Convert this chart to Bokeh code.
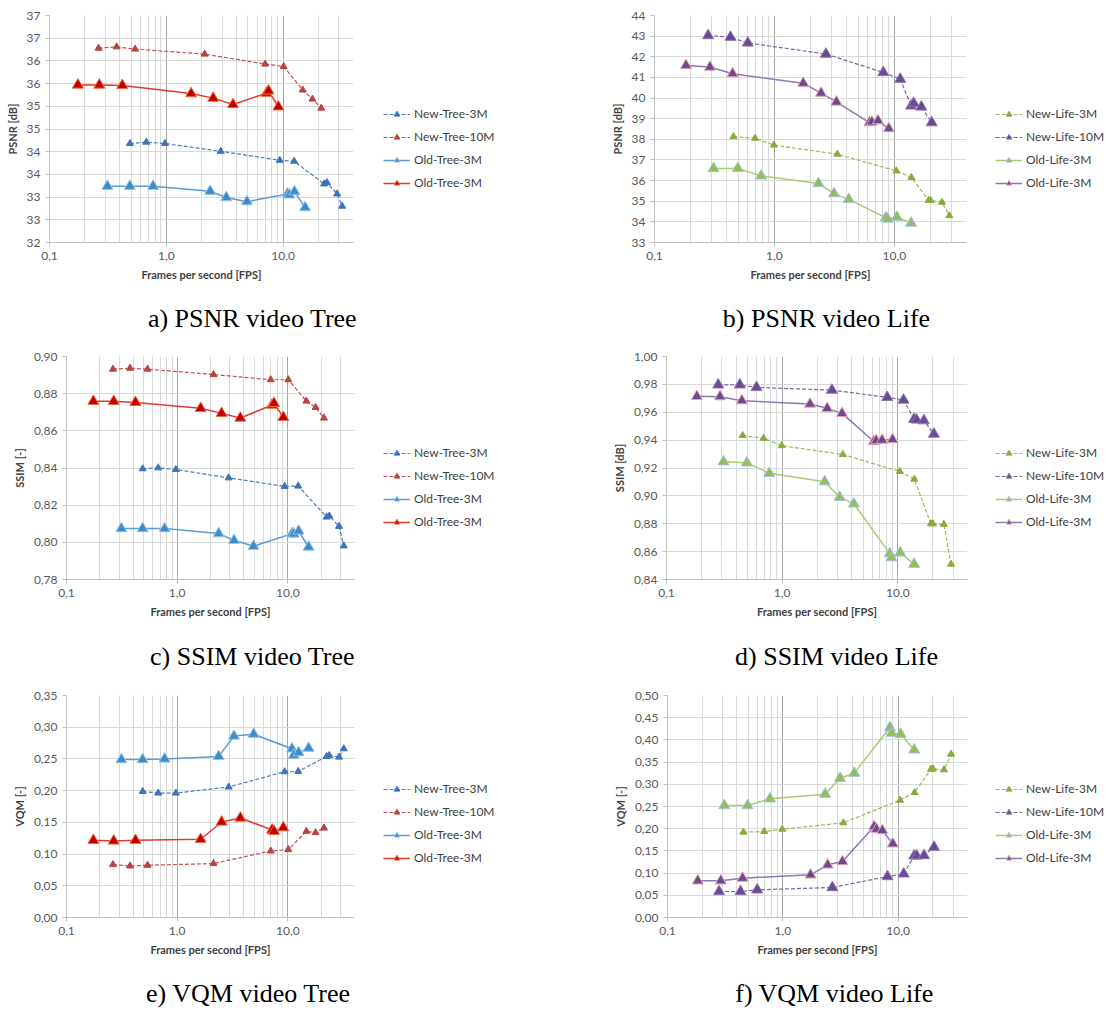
from bokeh.plotting import figure
from bokeh.models import FixedTicker, CustomJSTickFormatter, Legend, LegendItem, Label, Range1d
from bokeh.layouts import column, row
from bokeh.embed import file_html
from bokeh.resources import INLINE

# ---------------- data ----------------
X_TICKS = [0.1, 1.0, 10.0]
X_MINOR = [0.2, 0.3, 0.4, 0.5, 0.6, 0.7, 0.8, 0.9, 2, 3, 4, 5, 6, 7, 8, 9, 20, 30, 40]

# Tree video
tree_new3_fps = [0.488, 0.674, 0.973, 2.92, 9.35, 12.4, 22.4, 23.7, 29.0, 32.0]
tree_new3_psnr = [34.18, 34.21, 34.18, 34.01, 33.81, 33.79, 33.29, 33.32, 33.07, 32.80]
tree_new3_ssim = [0.8396, 0.8401, 0.8392, 0.8347, 0.8301, 0.8303, 0.8136, 0.8142, 0.8086, 0.7981]
tree_new3_vqm = [0.1988, 0.1962, 0.1962, 0.2057, 0.2298, 0.2303, 0.2539, 0.2555, 0.2529, 0.2660]

tree_new10_fps = [0.263, 0.375, 0.54, 2.13, 7.0, 10.1, 14.7, 17.8, 21.2]
tree_new10_psnr = [36.28, 36.31, 36.26, 36.15, 35.93, 35.875, 35.36, 35.16, 34.96]
tree_new10_ssim = [0.8932, 0.8937, 0.8932, 0.8903, 0.8875, 0.8875, 0.8760, 0.8726, 0.8669]
tree_new10_vqm = [0.0834, 0.0813, 0.0824, 0.0850, 0.1049, 0.1070, 0.1359, 0.1338, 0.1411]

tree_old3b_fps = [0.313, 0.487, 0.77, 2.37, 3.26, 4.9, 10.9, 11.3, 12.5, 15.4]
tree_old3b_psnr = [33.24, 33.24, 33.24, 33.13, 32.99, 32.90, 33.07, 33.05, 33.12, 32.77]
tree_old3b_ssim = [0.8074, 0.8074, 0.8074, 0.8047, 0.8011, 0.7979, 0.8047, 0.8045, 0.8061, 0.7975]
tree_old3b_vqm = [0.249, 0.249, 0.250, 0.254, 0.286, 0.289, 0.266, 0.256, 0.260, 0.267]

tree_old3r_fps = [0.175, 0.267, 0.42, 1.63, 2.52, 3.72, 7.2, 7.5, 9.1]
tree_old3r_psnr = [35.47, 35.47, 35.46, 35.28, 35.18, 35.04, 35.29, 35.34, 34.99]
tree_old3r_ssim = [0.8759, 0.8759, 0.8753, 0.8721, 0.8694, 0.8669, 0.8739, 0.8748, 0.8673]
tree_old3r_vqm = [0.1217, 0.1207, 0.1217, 0.1233, 0.1506, 0.1569, 0.1380, 0.1360, 0.1417]

# Life video
life_new3_fps = [0.455, 0.69, 0.99, 3.35, 10.4, 13.9, 19.3, 20.1, 25.0, 28.8]
life_new3_psnr = [38.13, 38.05, 37.72, 37.28, 36.47, 36.15, 35.04, 35.04, 34.95, 34.30]
life_new3_ssim = [0.9433, 0.9413, 0.9360, 0.9297, 0.9175, 0.9120, 0.8800, 0.8800, 0.8796, 0.8510]
life_new3_vqm = [0.1922, 0.1937, 0.1989, 0.2132, 0.2643, 0.2815, 0.3341, 0.3348, 0.3326, 0.3679]

life_new10_fps = [0.28, 0.43, 0.60, 2.69, 8.1, 11.2, 13.8, 14.5, 16.8, 20.5]
life_new10_psnr = [43.03, 42.95, 42.67, 42.13, 41.24, 40.92, 39.62, 39.75, 39.57, 38.81]
life_new10_ssim = [0.9797, 0.9797, 0.9778, 0.9759, 0.9707, 0.9688, 0.9550, 0.9545, 0.9540, 0.9444]
life_new10_vqm = [0.0586, 0.0586, 0.0623, 0.0676, 0.0923, 0.0983, 0.1389, 0.1389, 0.1396, 0.1584]

life_old3g_fps = [0.311, 0.495, 0.775, 2.33, 3.14, 4.17, 8.5, 8.8, 10.5, 13.8]
life_old3g_psnr = [36.59, 36.59, 36.23, 35.86, 35.37, 35.09, 34.20, 34.14, 34.23, 33.94]
life_old3g_ssim = [0.9245, 0.9238, 0.9162, 0.9102, 0.8990, 0.8943, 0.8586, 0.8557, 0.8591, 0.8510]
life_old3g_vqm = [0.2523, 0.2523, 0.2673, 0.2778, 0.3138, 0.3251, 0.4279, 0.4152, 0.4129, 0.3776]

life_old3p_fps = [0.183, 0.29, 0.448, 1.74, 2.45, 3.29, 6.2, 6.5, 7.3, 9.0]
life_old3p_psnr = [41.58, 41.50, 41.18, 40.72, 40.24, 39.81, 38.81, 38.84, 38.91, 38.52]
life_old3p_ssim = [0.9714, 0.9712, 0.9683, 0.9659, 0.9628, 0.9592, 0.9390, 0.9397, 0.9400, 0.9404]
life_old3p_vqm = [0.0826, 0.0826, 0.0886, 0.0961, 0.1186, 0.1261, 0.2050, 0.1990, 0.1960, 0.1660]

tree_names = ["New-Tree-3M", "New-Tree-10M", "Old-Tree-3M", "Old-Tree-3M"]
life_names = ["New-Life-3M", "New-Life-10M", "Old-Life-3M", "Old-Life-3M"]

psnr_tree_ticks = [32.0, 32.5, 33.0, 33.5, 34.0, 34.5, 35.0, 35.5, 36.0, 36.5, 37.0]
psnr_life_ticks = [33, 34, 35, 36, 37, 38, 39, 40, 41, 42, 43, 44]
ssim_tree_ticks = [0.78, 0.80, 0.82, 0.84, 0.86, 0.88, 0.90]
ssim_life_ticks = [0.84, 0.86, 0.88, 0.90, 0.92, 0.94, 0.96, 0.98, 1.00]
vqm_tree_ticks = [0.00, 0.05, 0.10, 0.15, 0.20, 0.25, 0.30, 0.35]
vqm_life_ticks = [0.00, 0.05, 0.10, 0.15, 0.20, 0.25, 0.30, 0.35, 0.40, 0.45, 0.50]

# ---------------- styles ----------------
TREE_STYLES = [
    dict(line="#4A7EBB", fill="#3F73B8", edge="#3F73B8", size=7, dash="4 2", lw=1.2),
    dict(line="#C0504D", fill="#B9433F", edge="#B9433F", size=7, dash="4 2", lw=1.2),
    dict(line="#5B9BD5", fill="#3A8DC8", edge="#9CC2E5", size=11, dash="solid", lw=1.5),
    dict(line="#E03A35", fill="#C00000", edge="#EE6A3A", size=11, dash="solid", lw=1.5),
]
LIFE_STYLES = [
    dict(line="#9BBB59", fill="#86AC3E", edge="#86AC3E", size=7, dash="4 2", lw=1.2),
    dict(line="#8064A2", fill="#6A4A94", edge="#8E76B0", size=11, dash="4 2", lw=1.2),
    dict(line="#A8CC72", fill="#93BF55", edge="#A4BEE6", size=11, dash="solid", lw=1.5),
    dict(line="#8D78B5", fill="#6A4B92", edge="#EAA3A3", size=11, dash="solid", lw=1.5),
]

TICK_FONT = "Lato"
INT_FMT = "return Math.round(tick).toString();"
DEC_FMT = "return tick.toFixed(2).replace('.', ',');"
X_FMT = "return tick.toFixed(1).replace('.', ',');"
BR = 20  # right border of each plot


def blank(width, height):
    # the data sit far outside these ranges, so only annotations show
    p = figure(width=width, height=height, x_range=Range1d(-2, -1), y_range=Range1d(-2, -1),
               output_backend="svg", toolbar_location=None, title=None,
               x_axis_location=None, y_axis_location=None, min_border=0)
    p.outline_line_color = None
    p.xgrid.visible = False
    p.ygrid.visible = False
    return p


def make_plot(height, bl, bt, fw, fh, yrange, yticks, yfmt, ylabel, series, styles):
    p = figure(width=bl + fw + BR, height=height, x_axis_type="log",
               x_range=Range1d(0.1, 40), y_range=Range1d(*yrange),
               output_backend="svg", toolbar_location=None, title=None,
               min_border_left=bl, min_border_right=BR,
               min_border_top=bt, min_border_bottom=height - bt - fh)
    p.outline_line_color = None

    xt = FixedTicker(ticks=X_TICKS, minor_ticks=X_MINOR)
    p.xaxis.ticker = xt
    p.xgrid.ticker = xt
    p.xaxis.formatter = CustomJSTickFormatter(code=X_FMT)
    yt = FixedTicker(ticks=yticks)
    p.yaxis.ticker = yt
    p.ygrid.ticker = yt
    p.yaxis.formatter = CustomJSTickFormatter(code=yfmt)

    p.xgrid.grid_line_color = "#a6a6a6"
    p.xgrid.minor_grid_line_color = "#d9d9d9"
    p.ygrid.grid_line_color = "#d9d9d9"

    for ax in (p.xaxis, p.yaxis):
        ax.axis_line_color = "#bfbfbf"
        ax.major_tick_line_color = "#bfbfbf"
        ax.major_tick_out = 4
        ax.major_tick_in = 0
        ax.minor_tick_line_color = None
        ax.major_label_text_font = TICK_FONT
        ax.major_label_text_font_size = "12px"
        ax.major_label_text_color = "#595959"
        ax.major_label_standoff = 5
        ax.axis_label_text_font = TICK_FONT
        ax.axis_label_text_font_style = "bold"
        ax.axis_label_text_font_size = "11px"
        ax.axis_label_text_color = "#404040"
        ax.axis_label_standoff = 5
    p.xaxis.axis_label = "Frames per second [FPS]"
    p.yaxis.axis_label = ylabel

    for (fps, vals), st in zip(series, styles):
        p.line(fps, vals, line_color=st["line"], line_width=st["lw"], line_dash=st["dash"])
        p.scatter(fps, vals, marker="triangle", size=st["size"],
                  fill_color=st["fill"], line_color=st["edge"], line_width=1)
    return p


def make_legend(width, height, names, series, styles, loc):
    # in a row the frames are aligned, so loc is measured from the plot frame's bottom
    p = blank(width, height)
    items = []
    for name, (fps, vals), st in zip(names, series, styles):
        lr = p.line(fps, vals, line_color=st["line"], line_width=st["lw"], line_dash=st["dash"])
        sr = p.scatter(fps, vals, marker="triangle", size=st["size"],
                       fill_color=st["fill"], line_color=st["edge"], line_width=1)
        items.append(LegendItem(label=name, renderers=[lr, sr]))
    legend = Legend(items=items, location=loc, margin=0, padding=0,
                    spacing=8, glyph_width=27, glyph_height=14, label_height=14,
                    label_standoff=4, border_line_color=None, background_fill_alpha=0,
                    label_text_font=TICK_FONT, label_text_font_size="12px",
                    label_text_color="#404040")
    p.add_layout(legend)
    return p


def make_caption(width, height, text, x, y):
    p = blank(width, height)
    p.add_layout(Label(x=x, y=y, x_units="screen", y_units="screen", text=text,
                       text_font="Liberation Serif", text_font_size="26px",
                       text_align="center", text_baseline="alphabetic", text_color="black"))
    return p


LEFT_W = 556
RIGHT_W = 552

tree_psnr = [(tree_new3_fps, tree_new3_psnr), (tree_new10_fps, tree_new10_psnr),
             (tree_old3b_fps, tree_old3b_psnr), (tree_old3r_fps, tree_old3r_psnr)]
life_psnr = [(life_new3_fps, life_new3_psnr), (life_new10_fps, life_new10_psnr),
             (life_old3g_fps, life_old3g_psnr), (life_old3p_fps, life_old3p_psnr)]
tree_ssim = [(tree_new3_fps, tree_new3_ssim), (tree_new10_fps, tree_new10_ssim),
             (tree_old3b_fps, tree_old3b_ssim), (tree_old3r_fps, tree_old3r_ssim)]
life_ssim = [(life_new3_fps, life_new3_ssim), (life_new10_fps, life_new10_ssim),
             (life_old3g_fps, life_old3g_ssim), (life_old3p_fps, life_old3p_ssim)]
tree_vqm = [(tree_new3_fps, tree_new3_vqm), (tree_new10_fps, tree_new10_vqm),
            (tree_old3b_fps, tree_old3b_vqm), (tree_old3r_fps, tree_old3r_vqm)]
life_vqm = [(life_new3_fps, life_new3_vqm), (life_new10_fps, life_new10_vqm),
            (life_old3g_fps, life_old3g_vqm), (life_old3p_fps, life_old3p_vqm)]

# row 1
pa = make_plot(300, 49, 15, 304, 227, (32, 37), psnr_tree_ticks, INT_FMT, "PSNR [dB]", tree_psnr, TREE_STYLES)
la = make_legend(LEFT_W - pa.width, 300, tree_names, tree_psnr, TREE_STYLES, (10, 52))
pb = make_plot(300, 98, 15, 312, 227, (33, 44), psnr_life_ticks, INT_FMT, "PSNR [dB]", life_psnr, LIFE_STYLES)
lb = make_legend(RIGHT_W - pb.width, 300, life_names, life_psnr, LIFE_STYLES, (9, 52))
ca = make_caption(LEFT_W, 46, "a) PSNR video Tree", 252, 28)
cb = make_caption(RIGHT_W, 46, "b) PSNR video Life", 270, 28)

# row 2
pc = make_plot(294, 66, 10, 288, 223, (0.78, 0.90), ssim_tree_ticks, DEC_FMT, "SSIM [-]", tree_ssim, TREE_STYLES)
lc = make_legend(LEFT_W - pc.width, 294, tree_names, tree_ssim, TREE_STYLES, (9, 50))
pd = make_plot(294, 110, 10, 301, 223, (0.84, 1.00), ssim_life_ticks, DEC_FMT, "SSIM [dB]", life_ssim, LIFE_STYLES)
ld = make_legend(RIGHT_W - pd.width, 294, life_names, life_ssim, LIFE_STYLES, (8, 50))
cc = make_caption(LEFT_W, 44, "c) SSIM video Tree", 252, 28)
cd = make_caption(RIGHT_W, 44, "d) SSIM video Life", 280, 28)

# row 3
pe = make_plot(280, 66, 11, 288, 222, (0.0, 0.35), vqm_tree_ticks, DEC_FMT, "VQM [-]", tree_vqm, TREE_STYLES)
le = make_legend(LEFT_W - pe.width, 280, tree_names, tree_vqm, TREE_STYLES, (9, 52))
pf = make_plot(280, 111, 11, 300, 222, (0.0, 0.50), vqm_life_ticks, DEC_FMT, "VQM [-]", life_vqm, LIFE_STYLES)
lf = make_legend(RIGHT_W - pf.width, 280, life_names, life_vqm, LIFE_STYLES, (8, 52))
ce = make_caption(LEFT_W, 44, "e) VQM video Tree", 248, 15)
cf = make_caption(RIGHT_W, 44, "f) VQM video Life", 278, 15)

layout = column(
    row(pa, la, pb, lb), row(ca, cb),
    row(pc, lc, pd, ld), row(cc, cd),
    row(pe, le, pf, lf), row(ce, cf),
)
open("out.html", "w").write(file_html(layout, INLINE))
